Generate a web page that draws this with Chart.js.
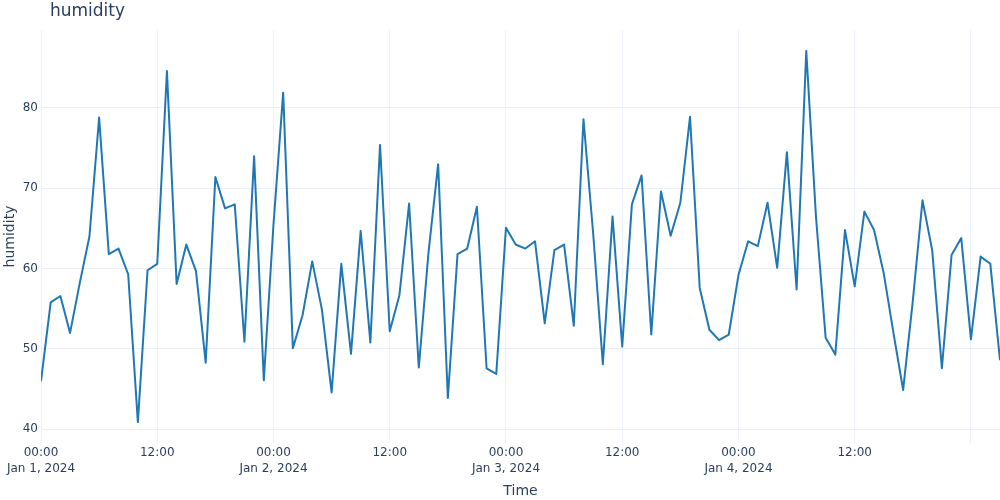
<!DOCTYPE html>
<html>
<head>
<meta charset="utf-8">
<script src="https://cdn.jsdelivr.net/npm/chart.js@4.4.1/dist/chart.umd.min.js"></script>
<style>
  html, body { margin: 0; padding: 0; background: #fff; }
  #wrap { width: 1000px; height: 500px; }
</style>
</head>
<body>
<div id="wrap"><canvas id="humidity-chart" width="1000" height="500"></canvas></div>
<script>
// hourly readings starting Jan 1, 2024 00:00
var humidity = [
    46.0, 55.8, 56.6, 52.0, 58.2, 64.0, 78.8, 61.8, 62.5, 59.3,
    40.9, 59.8, 60.6, 84.6, 58.1, 63.0, 59.7, 48.3, 71.4, 67.5,
    68.0, 50.9, 74.0, 46.1, 65.5, 81.9, 50.1, 54.2, 60.9, 54.9,
    44.6, 60.6, 49.4, 64.7, 50.8, 75.4, 52.2, 56.7, 68.1, 47.7,
    62.0, 73.0, 43.9, 61.8, 62.5, 67.7, 47.6, 46.9, 65.1, 63.0,
    62.5, 63.4, 53.2, 62.3, 63.0, 52.9, 78.6, 64.4, 48.1, 66.5,
    50.3, 68.0, 71.6, 51.8, 69.6, 64.1, 68.2, 78.9, 57.6, 52.4,
    51.1, 51.8, 59.2, 63.4, 62.8, 68.2, 60.1, 74.5, 57.4, 87.1,
    66.5, 51.4, 49.3, 64.8, 57.8, 67.1, 64.8, 59.4, 52.0, 44.9,
    56.0, 68.5, 62.3, 47.6, 61.7, 63.8, 51.2, 61.5, 60.6, 48.6
];
// hours since start, one per reading
var hours = humidity.map(function(v, i) { return i; });

// tick labels
var dayLabels = ['Jan 1, 2024', 'Jan 2, 2024', 'Jan 3, 2024', 'Jan 4, 2024'];
var hourLabels = ['00:00', '12:00'];

var textColor = '#2a3f5f';
var gridColor = '#ebf0f8';
var fontFamily = '"DejaVu Sans", Verdana, sans-serif';
Chart.defaults.font.family = fontFamily;
Chart.defaults.color = textColor;

// title drawn in the top padding, like the original
var titlePlugin = {
    id: 'plainTitle',
    afterDraw: function(chart) {
        var ctx = chart.ctx;
        ctx.save();
        ctx.font = '17px ' + fontFamily;
        ctx.fillStyle = textColor;
        ctx.textBaseline = 'alphabetic';
        ctx.fillText('humidity', 50, 16);
        ctx.restore();
    }
};

var points = hours.map(function(h, i) { return { x: h, y: humidity[i] }; });

var ctx = document.getElementById('humidity-chart').getContext('2d');
var chart = new Chart(ctx, {
    type: 'line',
    data: {
        datasets: [{
            label: 'humidity',
            data: points,
            borderColor: '#1f77b4',
            backgroundColor: '#1f77b4',
            borderWidth: 2,
            borderJoinStyle: 'round',
            pointRadius: 0,
            tension: 0,
            fill: false
        }]
    },
    options: {
        responsive: false,
        animation: false,
        layout: { padding: { top: 30, right: 0, left: 0, bottom: 0 } },
        plugins: {
            legend: { display: false },
            title: { display: false },
            tooltip: { enabled: false }
        },
        scales: {
            x: {
                type: 'linear',
                min: 0,
                max: 99,
                border: { display: false },
                grid: { color: gridColor, drawTicks: false, lineWidth: 1 },
                afterFit: function(scale) { scale.height = 57; },
                ticks: {
                    stepSize: 12,
                    includeBounds: false,
                    autoSkip: false,
                    maxRotation: 0,
                    padding: 2,
                    font: { size: 12, lineHeight: 1.3 },
                    color: textColor,
                    callback: function(value) {
                        var day = Math.floor(value / 24);
                        if (value % 24 === 0) {
                            return dayLabels[day] ? [hourLabels[0], dayLabels[day]] : '';
                        }
                        return hourLabels[1];
                    }
                },
                title: {
                    display: true,
                    text: 'Time',
                    color: textColor,
                    font: { size: 14 },
                    padding: { top: 0, bottom: 0 }
                }
            },
            y: {
                min: 38.3,
                max: 89.7,
                border: { display: false },
                grid: { color: gridColor, drawTicks: false, lineWidth: 1 },
                afterFit: function(scale) { scale.width = 41; },
                ticks: {
                    stepSize: 10,
                    includeBounds: false,
                    padding: 3,
                    font: { size: 12 },
                    color: textColor
                },
                title: {
                    display: true,
                    text: 'humidity',
                    color: textColor,
                    font: { size: 14 },
                    padding: { top: 2, bottom: 0 }
                }
            }
        }
    },
    plugins: [titlePlugin]
});
</script>
</body>
</html>
